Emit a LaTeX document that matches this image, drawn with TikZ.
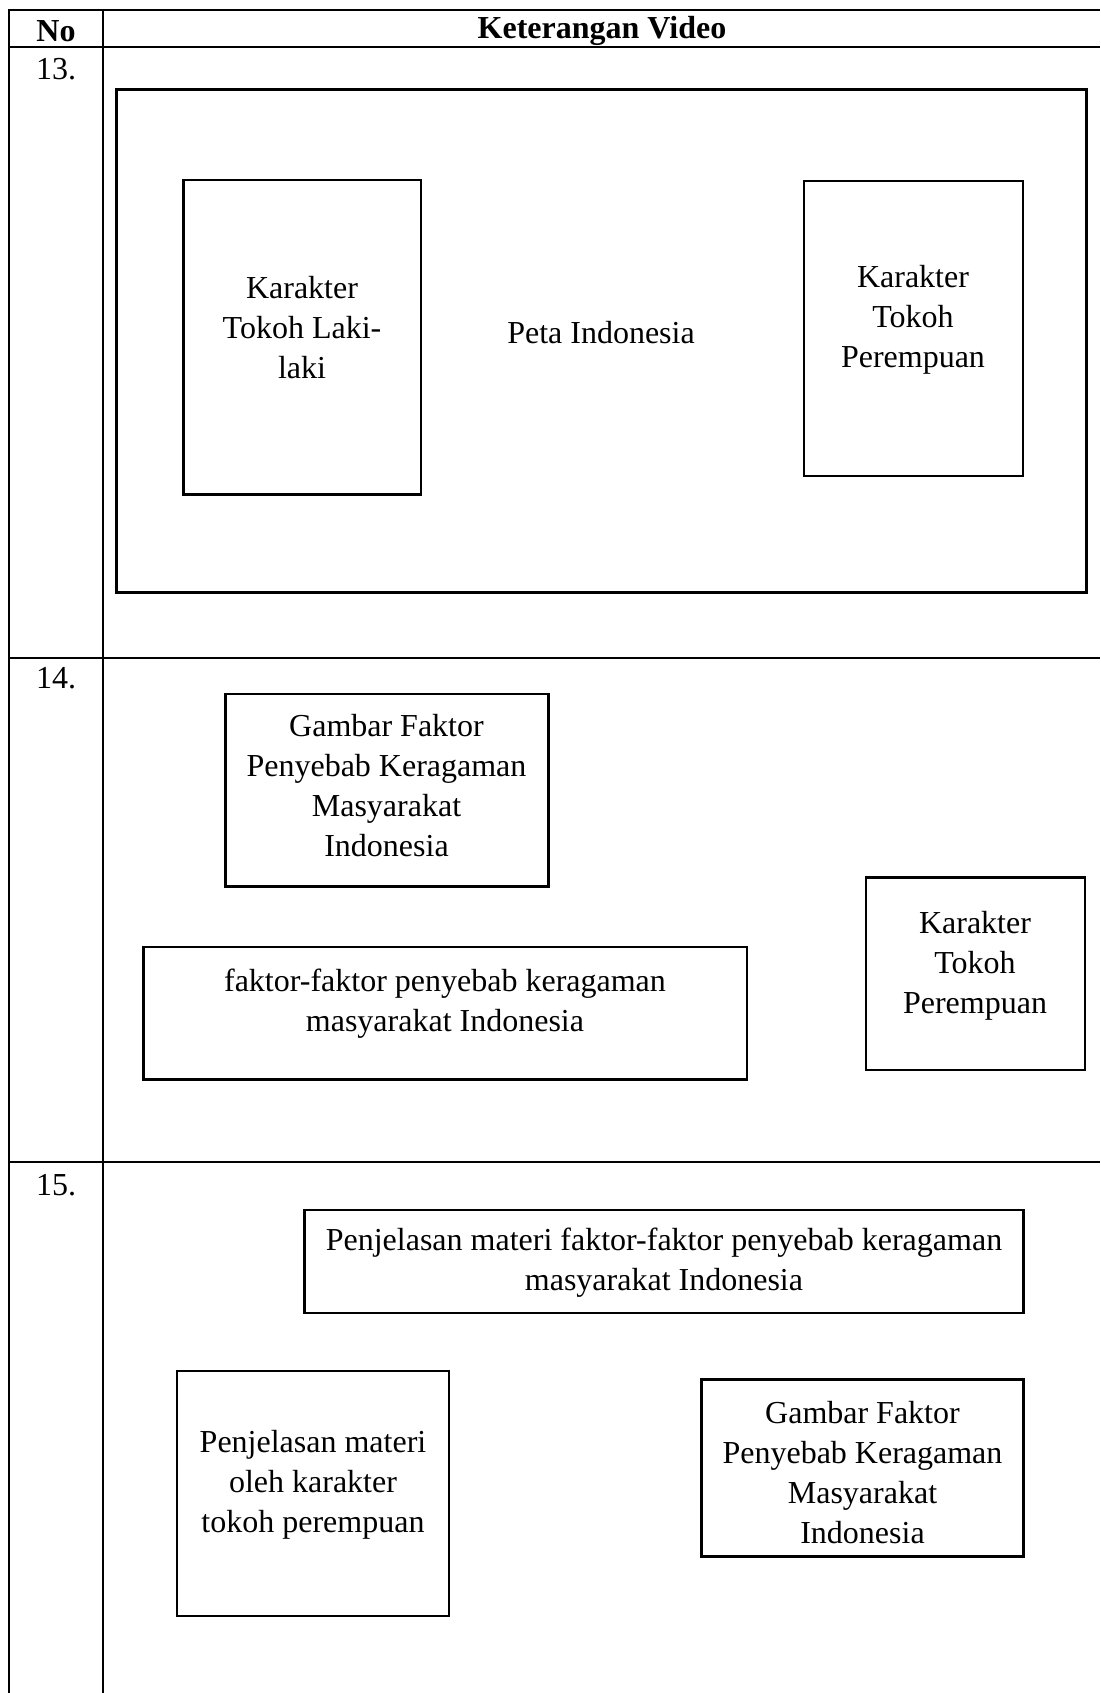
\documentclass[tikz,border=0pt]{standalone}
\usepackage{fontspec}
\setmainfont{Liberation Serif}
\usetikzlibrary{fit}
\begin{document}
\begin{tikzpicture}[x=0.5pt,y=-0.5pt,
  rule/.style={line width=1.1pt},
  frame/.style={draw, line width=1.1pt, rectangle, inner sep=0pt},
  lbl/.style={align=center, font=\fontsize{16}{20}\selectfont, inner sep=0pt},
  hdr/.style={align=center, font=\fontsize{16}{20}\selectfont\bfseries, inner sep=0pt},
]
\useasboundingbox (0,0) rectangle (1100,1693);
% table rules
\draw[rule] (1100,10) -- (9,10) -- (9,1693);
\draw[rule] (103,10) -- (103,1693);
\draw[rule] (9,47) -- (1100,47);
\draw[rule] (9,658) -- (1100,658);
\draw[rule] (9,1162) -- (1100,1162);
% header
\node[hdr] (hno) at (56,31) {No};
\node[hdr] (hket) at (602,31) {Keterangan Video};
% row numbers
\node[lbl] (n13) at (56,69) {13.};
\node[lbl] (n14) at (56,678) {14.};
\node[lbl] (n15) at (56,1185) {15.};
% row 13
\node[frame, fit={(116.5,89.5) (1086.5,592.5)}] (outer13) {};
\node[frame, fit={(183.5,180) (421,494.5)}] (laki) {};
\node[frame, fit={(804,181) (1023,476)}] (perem13) {};
\node[lbl] (tlaki) at (302,328) {Karakter\\Tokoh Laki-\\laki};
\node[lbl] (tpeta) at (601,333) {Peta Indonesia};
\node[lbl] (tperem13) at (913,320) {Karakter\\Tokoh\\Perempuan};
% row 14
\node[frame, fit={(225.5,694) (548.5,886.5)}] (gambar14) {};
\node[lbl] (tgambar14) at (386.5,786) {Gambar Faktor\\Penyebab Keragaman\\Masyarakat\\Indonesia};
\node[frame, fit={(143.5,947) (747,1079.5)}] (faktor14) {};
\node[lbl] (tfaktor14) at (445,1004) {faktor-faktor penyebab keragaman\\masyarakat Indonesia};
\node[frame, fit={(866,877.5) (1085,1070)}] (perem14) {};
\node[lbl] (tperem14) at (975,966) {Karakter\\Tokoh\\Perempuan};
% row 15
\node[frame, fit={(304.5,1210) (1023.5,1313)}] (penj15) {};
\node[lbl] (tpenj15) at (664,1263) {Penjelasan materi faktor-faktor penyebab keragaman\\masyarakat Indonesia};
\node[frame, fit={(177,1371) (449,1616)}] (oleh15) {};
\node[lbl] (toleh15) at (313,1485) {Penjelasan materi\\oleh karakter\\tokoh perempuan};
\node[frame, fit={(701.5,1379.5) (1023.5,1556.5)}] (gambar15) {};
\node[lbl] (tgambar15) at (862.5,1473) {Gambar Faktor\\Penyebab Keragaman\\Masyarakat\\Indonesia};
\end{tikzpicture}
\end{document}
